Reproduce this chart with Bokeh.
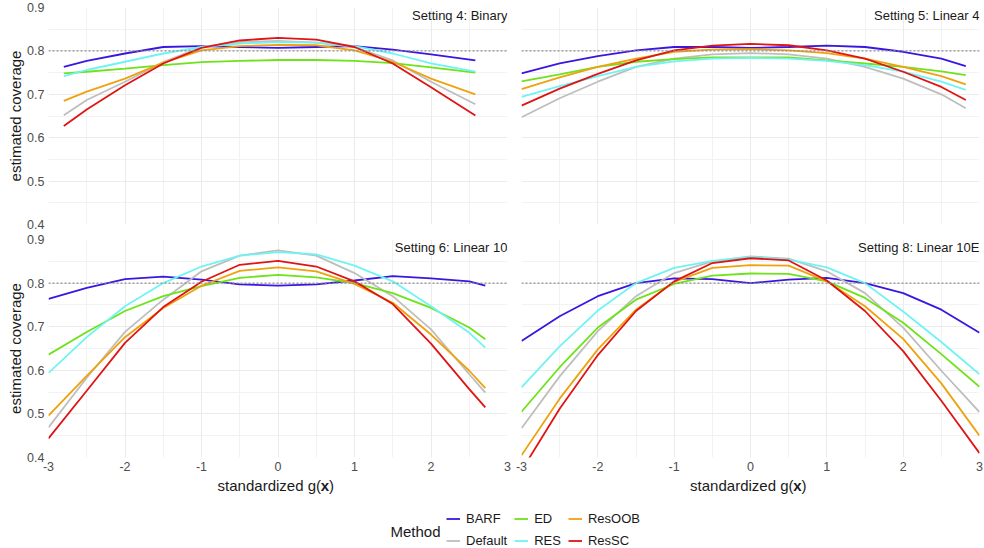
from bokeh.plotting import figure
from bokeh.layouts import column, row
from bokeh.models import (FixedTicker, PrintfTickFormatter, Span, Label, Legend,
                          LegendItem, Range1d)
from bokeh.embed import file_html
from bokeh.resources import INLINE

FONT = "Liberation Sans"

METHODS = ["BARF", "Default", "ED", "RES", "ResOOB", "ResSC"]
COLORS = {
    "BARF": "#3A16E0",
    "Default": "#BEBEBE",
    "ED": "#6EE31A",
    "RES": "#6FF3F3",
    "ResOOB": "#EEA20E",
    "ResSC": "#E01414",
}

NOMINAL = 0.8  # nominal coverage level

X_TICKS = [-3, -2, -1, 0, 1, 2, 3]
X_MINOR = [-2.5, -1.5, -0.5, 0.5, 1.5, 2.5]
Y_TICKS = [0.4, 0.5, 0.6, 0.7, 0.8, 0.9]
Y_MINOR = [0.45, 0.55, 0.65, 0.75, 0.85]

# Setting 4: Binary
X_S4 = [-2.8, -2.5, -2.0, -1.5, -1.0, -0.5, 0.0, 0.5, 1.0, 1.5, 2.0, 2.58]
S4_BARF = [0.763, 0.777, 0.794, 0.809, 0.811, 0.809, 0.807, 0.809, 0.811, 0.803, 0.792, 0.778]
S4_DEFAULT = [0.652, 0.687, 0.729, 0.774, 0.809, 0.820, 0.823, 0.819, 0.809, 0.778, 0.729, 0.677]
S4_ED = [0.748, 0.752, 0.759, 0.767, 0.774, 0.777, 0.779, 0.779, 0.777, 0.772, 0.762, 0.750]
S4_RES = [0.742, 0.756, 0.775, 0.794, 0.809, 0.817, 0.820, 0.819, 0.811, 0.794, 0.771, 0.752]
S4_RESOOB = [0.685, 0.706, 0.736, 0.773, 0.801, 0.811, 0.814, 0.813, 0.801, 0.775, 0.736, 0.700]
S4_RESSC = [0.627, 0.665, 0.721, 0.771, 0.807, 0.824, 0.830, 0.826, 0.809, 0.771, 0.716, 0.651]

# Setting 5: Linear 4
X_S5 = [-3.0, -2.5, -2.0, -1.5, -1.0, -0.5, 0.0, 0.5, 1.0, 1.5, 2.0, 2.5, 2.82]
S5_BARF = [0.748, 0.771, 0.788, 0.801, 0.809, 0.809, 0.807, 0.809, 0.812, 0.809, 0.798, 0.782, 0.765]
S5_DEFAULT = [0.647, 0.691, 0.729, 0.763, 0.782, 0.792, 0.795, 0.792, 0.782, 0.763, 0.736, 0.700, 0.668]
S5_ED = [0.730, 0.746, 0.763, 0.775, 0.781, 0.785, 0.785, 0.785, 0.778, 0.771, 0.763, 0.753, 0.744]
S5_RES = [0.694, 0.719, 0.742, 0.763, 0.776, 0.782, 0.784, 0.782, 0.777, 0.767, 0.752, 0.729, 0.710]
S5_RESOOB = [0.712, 0.739, 0.763, 0.782, 0.798, 0.803, 0.804, 0.801, 0.795, 0.782, 0.763, 0.742, 0.723]
S5_RESSC = [0.674, 0.713, 0.747, 0.778, 0.801, 0.812, 0.816, 0.813, 0.801, 0.782, 0.752, 0.717, 0.687]

# Setting 6: Linear 10
X_S6 = [-3.0, -2.5, -2.0, -1.5, -1.0, -0.5, 0.0, 0.5, 1.0, 1.5, 2.0, 2.5, 2.71]
S6_BARF = [0.764, 0.789, 0.809, 0.815, 0.808, 0.797, 0.794, 0.797, 0.806, 0.816, 0.811, 0.804, 0.794]
S6_DEFAULT = [0.469, 0.583, 0.688, 0.762, 0.827, 0.863, 0.875, 0.863, 0.823, 0.770, 0.694, 0.591, 0.549]
S6_ED = [0.636, 0.688, 0.736, 0.770, 0.793, 0.812, 0.819, 0.813, 0.800, 0.777, 0.743, 0.698, 0.671]
S6_RES = [0.594, 0.676, 0.747, 0.800, 0.838, 0.863, 0.871, 0.866, 0.840, 0.804, 0.747, 0.686, 0.652]
S6_RESOOB = [0.496, 0.587, 0.676, 0.743, 0.794, 0.828, 0.836, 0.827, 0.798, 0.755, 0.682, 0.599, 0.559]
S6_RESSC = [0.444, 0.553, 0.663, 0.745, 0.803, 0.842, 0.851, 0.838, 0.804, 0.752, 0.661, 0.557, 0.515]

# Setting 8: Linear 10E
X_S8 = [-3.0, -2.5, -2.0, -1.5, -1.0, -0.5, 0.0, 0.5, 1.0, 1.5, 2.0, 2.5, 3.0]
S8_BARF = [0.667, 0.724, 0.770, 0.800, 0.811, 0.809, 0.800, 0.808, 0.812, 0.800, 0.777, 0.739, 0.686]
S8_DEFAULT = [0.467, 0.586, 0.690, 0.770, 0.823, 0.850, 0.861, 0.856, 0.827, 0.777, 0.698, 0.599, 0.504]
S8_ED = [0.505, 0.607, 0.698, 0.762, 0.798, 0.817, 0.822, 0.821, 0.804, 0.766, 0.709, 0.637, 0.562]
S8_RES = [0.561, 0.655, 0.737, 0.800, 0.835, 0.851, 0.860, 0.854, 0.836, 0.800, 0.735, 0.665, 0.591]
S8_RESOOB = [0.405, 0.535, 0.648, 0.739, 0.803, 0.835, 0.841, 0.840, 0.804, 0.747, 0.672, 0.570, 0.450]
S8_RESSC = [0.370, 0.512, 0.635, 0.736, 0.804, 0.846, 0.857, 0.852, 0.806, 0.736, 0.644, 0.530, 0.410]

PANELS = [
    ("Setting 4: Binary", X_S4, [S4_BARF, S4_DEFAULT, S4_ED, S4_RES, S4_RESOOB, S4_RESSC]),
    ("Setting 5: Linear 4", X_S5, [S5_BARF, S5_DEFAULT, S5_ED, S5_RES, S5_RESOOB, S5_RESSC]),
    ("Setting 6: Linear 10", X_S6, [S6_BARF, S6_DEFAULT, S6_ED, S6_RES, S6_RESOOB, S6_RESSC]),
    ("Setting 8: Linear 10E", X_S8, [S8_BARF, S8_DEFAULT, S8_ED, S8_RES, S8_RESOOB, S8_RESSC]),
]

# page geometry (pixels)
PAGE_W = 984
LEFT_W, RIGHT_W = 514, 470
LEFT_BORDERS = (48, 7)     # left, right border of left-column panels
RIGHT_BORDERS = (7, 5)     # left, right border of right-column panels
TOP_BORDERS = (7, 8)       # top, bottom border of the upper row
BOTTOM_BORDERS = (7, 20)   # top, bottom border of the lower row
TOP_H, BOTTOM_H = 232, 245
FOOT_H = 71


def make_panel(title, xs, series, left_axis, bottom_axis, width, height, borders):
    bl, br, bt, bb = borders
    p = figure(width=width, height=height,
               x_range=Range1d(-3, 3), y_range=Range1d(0.4, 0.9),
               x_axis_location="below" if bottom_axis else None,
               y_axis_location="left" if left_axis else None,
               output_backend="svg", toolbar_location=None,
               min_border_left=bl, min_border_right=br,
               min_border_top=bt, min_border_bottom=bb)
    p.outline_line_color = None
    p.background_fill_color = "white"
    p.border_fill_color = "white"

    p.xgrid.ticker = FixedTicker(ticks=X_TICKS, minor_ticks=X_MINOR)
    p.ygrid.ticker = FixedTicker(ticks=Y_TICKS, minor_ticks=Y_MINOR)
    for g in (p.xgrid, p.ygrid):
        g.grid_line_color = "#EBEBEB"
        g.grid_line_width = 1.1
        g.minor_grid_line_color = "#EFEFEF"
        g.minor_grid_line_width = 0.8

    if left_axis:
        ax = p.yaxis[0]
        ax.ticker = FixedTicker(ticks=Y_TICKS)
        ax.formatter = PrintfTickFormatter(format="%.1f")
        ax.axis_label = "estimated coverage"
        ax.axis_label_text_font = FONT
        ax.axis_label_text_font_size = "15px"
        ax.axis_label_text_font_style = "normal"
        ax.axis_label_text_color = "#1A1A1A"
        ax.axis_label_standoff = 0
    if bottom_axis:
        ax = p.xaxis[0]
        ax.ticker = FixedTicker(ticks=X_TICKS)
        ax.formatter = PrintfTickFormatter(format="%d")
    for ax in p.xaxis + p.yaxis:
        ax.axis_line_color = None
        ax.major_tick_line_color = None
        ax.minor_tick_line_color = None
        ax.major_tick_in = 0
        ax.major_tick_out = 0
        ax.minor_tick_in = 0
        ax.minor_tick_out = 0
        ax.major_label_standoff = 4
        ax.major_label_text_font = FONT
        ax.major_label_text_font_size = "12.5px"
        ax.major_label_text_color = "#4D4D4D"

    p.add_layout(Span(location=NOMINAL, dimension="width", line_color="#8F8F8F",
                      line_width=1.1, line_dash="2 2"))

    for m, ys in zip(METHODS, series):
        p.line(xs, ys, line_color=COLORS[m], line_width=1.8)

    p.add_layout(Label(x=3, y=0.9, text=title, text_align="right", text_baseline="top",
                       text_font=FONT, text_font_size="13px", text_color="#1A1A1A"))
    return p


p4 = make_panel(*PANELS[0], True, False, LEFT_W, TOP_H, LEFT_BORDERS + TOP_BORDERS)
p5 = make_panel(*PANELS[1], False, False, RIGHT_W, TOP_H, RIGHT_BORDERS + TOP_BORDERS)
p6 = make_panel(*PANELS[2], True, True, LEFT_W, BOTTOM_H, LEFT_BORDERS + BOTTOM_BORDERS)
p8 = make_panel(*PANELS[3], False, True, RIGHT_W, BOTTOM_H, RIGHT_BORDERS + BOTTOM_BORDERS)

# footer strip: x-axis titles under each column, then the legend
foot = figure(width=PAGE_W, height=FOOT_H, x_range=Range1d(0, PAGE_W), y_range=Range1d(0, FOOT_H),
              x_axis_location=None, y_axis_location=None,
              output_backend="svg", toolbar_location=None, min_border=0)
foot.grid.visible = False
foot.outline_line_color = None

col_centres = [
    LEFT_BORDERS[0] + (LEFT_W - sum(LEFT_BORDERS)) / 2,
    LEFT_W + RIGHT_BORDERS[0] + (RIGHT_W - sum(RIGHT_BORDERS)) / 2,
]
title_y = FOOT_H - 8
for cx in col_centres:
    common = dict(y=title_y, text_baseline="middle", text_font=FONT,
                  text_font_size="15px", text_color="#1A1A1A")
    foot.add_layout(Label(x=cx + 43, text="standardized g(", text_align="right", **common))
    foot.add_layout(Label(x=cx + 47, text="x", text_align="center",
                          text_font_style="bold", **common))
    foot.add_layout(Label(x=cx + 51, text=")", text_align="left", **common))

nan = float("nan")
items = []
for m in METHODS:
    r = foot.line(x=[nan, nan], y=[nan, nan], line_color=COLORS[m], line_width=1.8)
    items.append(LegendItem(label=m, renderers=[r]))
legend = Legend(items=items, location=(446, 0), orientation="vertical", nrows=2,
                glyph_width=14, glyph_height=15, label_height=15, label_standoff=6,
                spacing=7, padding=0, margin=0, border_line_color=None,
                background_fill_alpha=0, label_text_font=FONT,
                label_text_font_size="13px", label_text_color="#1A1A1A")
foot.add_layout(legend)
foot.add_layout(Label(x=390, y=17, text="Method", text_baseline="middle",
                      text_font=FONT, text_font_size="15px", text_color="#1A1A1A"))

layout = column(row(p4, p5), row(p6, p8), foot)

open("out.html", "w").write(file_html(layout, INLINE))
